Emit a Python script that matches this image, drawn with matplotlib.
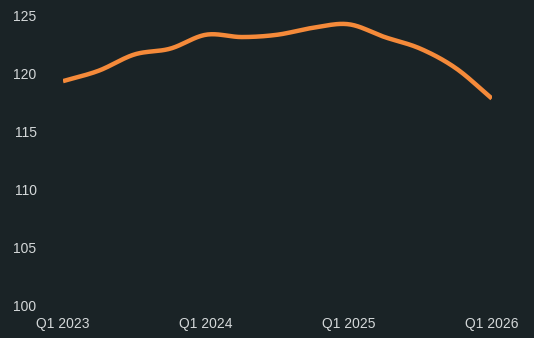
import matplotlib.pyplot as plt
import numpy as np

# Quarterly index values, Q1 2023 .. Q1 2026
quarters = ['Q1 2023', 'Q2 2023', 'Q3 2023', 'Q4 2023',
            'Q1 2024', 'Q2 2024', 'Q3 2024', 'Q4 2024',
            'Q1 2025', 'Q2 2025', 'Q3 2025', 'Q4 2025',
            'Q1 2026']
values = [119.3, 120.2, 121.6, 122.1,
          123.3, 123.1, 123.3, 123.9,
          124.2, 123.1, 122.1, 120.4,
          117.8]
tick_labels = ['Q1 2023', 'Q1 2024', 'Q1 2025', 'Q1 2026']
y_ticks = [100, 105, 110, 115, 120, 125]

BG = '#1a2326'
LINE = '#f58a3a'
TEXT = '#d4d8d9'


def catmull_rom(x, y, n=20):
    # smooth curve through the points (rendering only)
    x = np.asarray(x, float)
    y = np.asarray(y, float)
    px = np.concatenate([[2 * x[0] - x[1]], x, [2 * x[-1] - x[-2]]])
    py = np.concatenate([[2 * y[0] - y[1]], y, [2 * y[-1] - y[-2]]])
    xs, ys = [], []
    t = np.linspace(0, 1, n, endpoint=False)
    for i in range(1, len(px) - 2):
        for p, out in ((px, xs), (py, ys)):
            p0, p1, p2, p3 = p[i - 1], p[i], p[i + 1], p[i + 2]
            out.extend(0.5 * (2 * p1 + (-p0 + p2) * t
                              + (2 * p0 - 5 * p1 + 4 * p2 - p3) * t ** 2
                              + (-p0 + 3 * p1 - 3 * p2 + p3) * t ** 3))
    xs.append(x[-1])
    ys.append(y[-1])
    return np.array(xs), np.array(ys)


fig = plt.figure(figsize=(5.34, 3.38), dpi=100, facecolor=BG)
ax = fig.add_axes([0.118, 0.0976, 0.803, 0.858], facecolor=BG)

xpos = np.arange(len(quarters))
sx, sy = catmull_rom(xpos, values)
ax.plot(sx, sy, color=LINE, linewidth=3.2, solid_capstyle='butt')

ax.set_xlim(0, len(quarters) - 1)
ax.set_ylim(100, 125)
ax.set_xticks([quarters.index(q) for q in tick_labels])
ax.set_xticklabels(tick_labels)
ax.set_yticks(y_ticks)

ax.tick_params(axis='both', length=0, colors=TEXT, labelsize=10)
ax.tick_params(axis='x', pad=8.5)
ax.tick_params(axis='y', pad=19)
for lab in ax.get_xticklabels() + ax.get_yticklabels():
    lab.set_fontfamily('Liberation Sans')
for s in ax.spines.values():
    s.set_visible(False)

plt.savefig('out.png', dpi=100, facecolor=BG)
plt.close()
